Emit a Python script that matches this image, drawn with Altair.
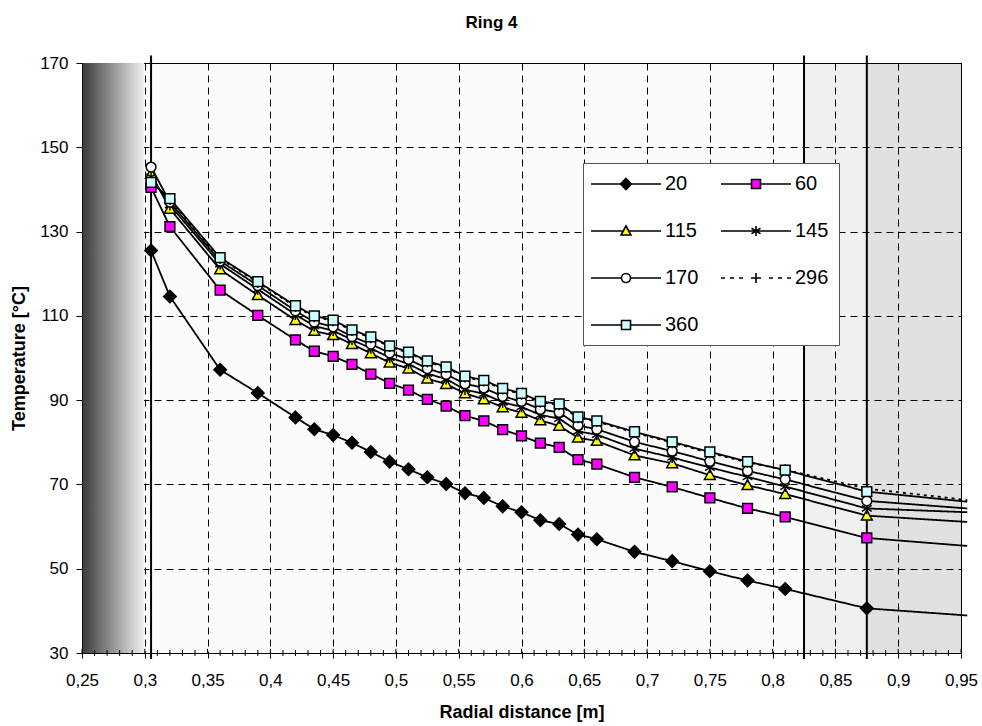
import altair as alt
import pandas as pd

# ---------------- data ----------------
series_names = ["20", "60", "115", "145", "170", "296", "360"]

radial_x = [0.305, 0.32, 0.36, 0.39, 0.42, 0.435, 0.45, 0.465, 0.48, 0.495,
            0.51, 0.525, 0.54, 0.555, 0.57, 0.585, 0.60, 0.615, 0.63, 0.645,
            0.66, 0.69, 0.72, 0.75, 0.78, 0.81, 0.875, 0.955]

temp_20 = [125.5, 114.6, 97.2, 91.7, 85.9, 83.1, 81.7, 79.9, 77.7, 75.4,
           73.6, 71.7, 70.1, 67.9, 66.8, 64.8, 63.4, 61.5, 60.6, 58.1,
           57.0, 54.0, 51.8, 49.4, 47.2, 45.2, 40.6, 38.9]
temp_60 = [140.5, 131.2, 116.1, 110.1, 104.3, 101.6, 100.4, 98.5, 96.2, 94.0,
           92.4, 90.2, 88.6, 86.3, 85.1, 83.0, 81.5, 79.8, 78.8, 75.9,
           74.8, 71.7, 69.4, 66.8, 64.3, 62.3, 57.3, 55.4]
temp_115 = [143.7, 135.4, 121.0, 114.9, 109.0, 106.4, 105.4, 103.3, 101.1, 98.9,
            97.5, 95.1, 93.8, 91.6, 90.2, 88.3, 87.0, 85.2, 83.9, 81.1,
            80.3, 76.9, 75.0, 72.2, 69.8, 67.7, 62.6, 61.1]
temp_145 = [143.0, 136.3, 122.3, 116.3, 110.3, 107.6, 106.5, 104.3, 102.3, 100.1,
            98.6, 96.3, 95.0, 92.5, 91.5, 89.5, 88.4, 86.5, 85.6, 82.6,
            81.8, 78.5, 76.4, 74.0, 71.8, 69.5, 64.3, 63.4]
temp_170 = [145.3, 137.0, 123.0, 117.2, 111.2, 108.5, 107.4, 105.1, 103.3, 101.2,
            99.7, 97.5, 96.1, 93.9, 92.9, 90.9, 89.7, 87.8, 87.1, 84.0,
            83.1, 80.1, 77.9, 75.5, 73.2, 71.2, 66.1, 64.3]
temp_296 = [142.0, 137.6, 123.6, 117.9, 112.2, 109.8, 108.8, 106.5, 104.8, 102.7,
            101.2, 99.1, 97.7, 95.5, 94.5, 92.6, 91.4, 89.5, 88.9, 85.8,
            84.9, 82.3, 79.9, 77.5, 75.2, 73.5, 69.0, 66.3]
temp_360 = [141.7, 137.8, 123.8, 118.1, 112.4, 110.0, 109.0, 106.7, 105.0, 102.9,
            101.4, 99.3, 97.9, 95.7, 94.7, 92.8, 91.6, 89.7, 89.1, 86.0,
            85.1, 82.5, 80.1, 77.7, 75.4, 73.4, 68.3, 65.9]
all_temps = [temp_20, temp_60, temp_115, temp_145, temp_170, temp_296, temp_360]

x_ticks = [0.25, 0.3, 0.35, 0.4, 0.45, 0.5, 0.55, 0.6, 0.65, 0.7, 0.75, 0.8, 0.85, 0.9, 0.95]
y_ticks = [30, 50, 70, 90, 110, 130, 150, 170]

# shaded zones of the plot
zone_start = [0.825, 0.875]
zone_end = [0.875, 0.95]
zone_opacity = [0.045, 0.1]
gradient_start = [0.2505]
gradient_end = [0.2995]
wall_x = [0.305, 0.825, 0.875]

fills = ["#000000", "#ff00ff", "#ffff00", "#000000", "#ffffff", "#000000", "#ccffff"]
dashes = [[1, 0], [1, 0], [1, 0], [1, 0], [1, 0], [3, 4], [1, 0]]

marker_paths = [
    "M0,-1.15L1.15,0L0,1.15L-1.15,0Z",
    "M-0.9,-0.9H0.9V0.9H-0.9Z",
    "M0,-1L1,0.8H-1Z",
    "M0,-1V1M-0.9,-0.55L0.9,0.55M-0.9,0.55L0.9,-0.55",
    "M-0.9,0A0.9,0.9,0,1,0,0.9,0A0.9,0.9,0,1,0,-0.9,0Z",
    "M-1,0H1M0,-1V1",
    "M-0.9,-0.9H0.9V0.9H-0.9Z",
]
legend_paths = [
    "M-3.5,0H3.5M0,-0.55L0.55,0L0,0.55L-0.55,0Z",
    "M-3.5,0H-0.45M0.45,0H3.5M-0.45,-0.45H0.45V0.45H-0.45Z",
    "M-3.5,0H-0.28M0.28,0H3.5M0,-0.5L0.5,0.4H-0.5Z",
    "M-3.5,0H3.5M0,-0.5V0.5M-0.45,-0.28L0.45,0.28M-0.45,0.28L0.45,-0.28",
    "M-3.5,0H-0.45M0.45,0H3.5M-0.45,0A0.45,0.45,0,1,0,0.45,0A0.45,0.45,0,1,0,-0.45,0Z",
    "M-3.5,0H-3.1M-2.6,0H-2.2M-1.7,0H-1.3M-0.5,0H0.5M0,-0.5V0.5M1.3,0H1.7M2.2,0H2.6M3.1,0H3.5",
    "M-3.5,0H-0.45M0.45,0H3.5M-0.45,-0.45H0.45V0.45H-0.45Z",
]

# ---------------- tables ----------------
rows = []
for s_idx, (name, vals) in enumerate(zip(series_names, all_temps)):
    for i, (xv, yv) in enumerate(zip(radial_x, vals)):
        rows.append({"series": name, "sidx": s_idx, "x": xv, "y": yv,
                     "marker": i < len(radial_x) - 1})
df = pd.DataFrame(rows)
df_points = df[df["marker"]].sort_values(["sidx", "x"]).reset_index(drop=True)
df_legend = df[df["x"] == radial_x[0]].reset_index(drop=True)

df_zones = pd.DataFrame({"x0": zone_start, "x1": zone_end, "y0": 30, "y1": 170, "op": zone_opacity})
df_grad = pd.DataFrame({"x0": gradient_start, "x1": gradient_end, "y0": 30, "y1": 170})
df_walls = pd.DataFrame({"x0": wall_x, "y0": 28.6, "y1": 171.8})

minor = [round(0.25 + 0.01 * i, 2) for i in range(71)]
df_ticks = pd.DataFrame({
    "x0": minor,
    "y0": [30 if round(v * 100) % 5 == 0 else 29.3 for v in minor],
    "y1": [31.0 if round(v * 100) % 5 == 0 else 30.7 for v in minor],
})

# ---------------- scales / axes ----------------
FONT = "Liberation Sans"
xs = alt.Scale(domain=[0.25, 0.95], nice=False, zero=False)
ys = alt.Scale(domain=[30, 170], nice=False, zero=False)
xaxis = alt.Axis(values=x_ticks, labelExpr="replace(format(datum.value, '.2~f'), '.', ',')",
                 grid=True, gridDash=[7, 5], gridColor="#000000", gridWidth=1,
                 tickSize=5, labelPadding=14, labelFontSize=17, titleFontSize=18,
                 titleFontWeight="bold", titlePadding=15, labelFlush=False,
                 title="Radial distance [m]")
yaxis = alt.Axis(values=y_ticks, grid=True, gridDash=[7, 5], gridColor="#000000", gridWidth=1,
                 tickSize=6, labelPadding=8, labelFontSize=17, titleFontSize=18,
                 titleFontWeight="bold", titlePadding=11, title="Temperature [°C]")

XT = "Radial distance [m]"
YT = "Temperature [°C]"

zones = alt.Chart(df_zones).mark_rect(color="#000000").encode(
    x=alt.X("x0:Q", scale=xs, axis=xaxis, title=XT), x2="x1:Q",
    y=alt.Y("y0:Q", scale=ys, axis=yaxis, title=YT), y2="y1:Q",
    opacity=alt.Opacity("op:Q", scale=None),
)

grad = alt.Chart(df_grad).mark_rect(
    color=alt.Gradient(gradient="linear",
                       stops=[alt.GradientStop(color="#3c3c3c", offset=0),
                              alt.GradientStop(color="#f0f0f0", offset=1)],
                       x1=0, x2=1, y1=0, y2=0)
).encode(
    x=alt.X("x0:Q", scale=xs, axis=xaxis, title=XT), x2="x1:Q",
    y=alt.Y("y0:Q", scale=ys, axis=yaxis, title=YT), y2="y1:Q",
)

walls = alt.Chart(df_walls).mark_rule(color="#000000", strokeWidth=2).encode(
    x=alt.X("x0:Q", scale=xs, axis=xaxis, title=XT),
    y=alt.Y("y0:Q", scale=ys, axis=yaxis, title=YT), y2="y1:Q",
)

ticks = alt.Chart(df_ticks).mark_rule(color="#000000", strokeWidth=1).encode(
    x=alt.X("x0:Q", scale=xs, axis=xaxis, title=XT),
    y=alt.Y("y0:Q", scale=ys, axis=yaxis, title=YT), y2="y1:Q",
)

lines = alt.Chart(df).mark_line(color="#000000", strokeWidth=1.8).encode(
    x=alt.X("x:Q", scale=xs, axis=xaxis, title=XT),
    y=alt.Y("y:Q", scale=ys, axis=yaxis, title=YT),
    detail="series:N",
    strokeDash=alt.StrokeDash("series:N", scale=alt.Scale(domain=series_names, range=dashes), legend=None),
)

points = alt.Chart(df_points).mark_point(stroke="#000000", strokeWidth=1.5, opacity=1,
                                         fillOpacity=1, size=118).encode(
    x=alt.X("x:Q", scale=xs, axis=xaxis, title=XT),
    y=alt.Y("y:Q", scale=ys, axis=yaxis, title=YT),
    shape=alt.Shape("series:N", scale=alt.Scale(domain=series_names, range=marker_paths), legend=None),
    fill=alt.Fill("series:N", scale=alt.Scale(domain=series_names, range=fills), legend=None),
    order=alt.Order("sidx:Q"),
)

leg = alt.Legend(title=None, orient="none", legendX=501, legendY=100, columns=2,
                 direction="horizontal",
                 symbolSize=400, symbolStrokeWidth=1.6, symbolStrokeColor="#000000",
                 symbolOpacity=1, symbolFillColor="#000000",
                 symbolOffset=22, labelOffset=28,
                 labelFontSize=20, labelFont=FONT, labelColor="#000000", labelLimit=0,
                 columnPadding=18, rowPadding=26, padding=10,
                 fillColor="#ffffff", strokeColor="#555555")

legend_layer = alt.Chart(df_legend).mark_point(opacity=0, size=1).encode(
    x=alt.X("x:Q", scale=xs, axis=xaxis, title=XT),
    y=alt.Y("y:Q", scale=ys, axis=yaxis, title=YT),
    shape=alt.Shape("series:N", scale=alt.Scale(domain=series_names, range=legend_paths), legend=leg),
    fill=alt.Fill("series:N", scale=alt.Scale(domain=series_names, range=fills), legend=leg),
)

chart = alt.layer(zones, grad, walls, ticks, lines, points, legend_layer).resolve_scale(
    shape="independent", fill="independent"
).properties(
    width=879, height=590,
    autosize=alt.AutoSizeParams(type="none"),
    padding={"left": 82, "top": 63, "right": 21, "bottom": 73},
    title=alt.TitleParams("Ring 4", font=FONT, fontSize=17, fontWeight="bold",
                          color="#000000", dx=-30, offset=9, baseline="alphabetic",
                          anchor="middle"),
    background="#ffffff",
).configure_view(
    fill="#fbfbfb", stroke="#000000", strokeWidth=1
).configure_axis(
    labelFont=FONT, titleFont=FONT, labelColor="#000000", titleColor="#000000",
    domainColor="#000000", tickColor="#000000", domainWidth=1
)

chart.save("out.html", embed_options={"renderer": "svg", "actions": False})
